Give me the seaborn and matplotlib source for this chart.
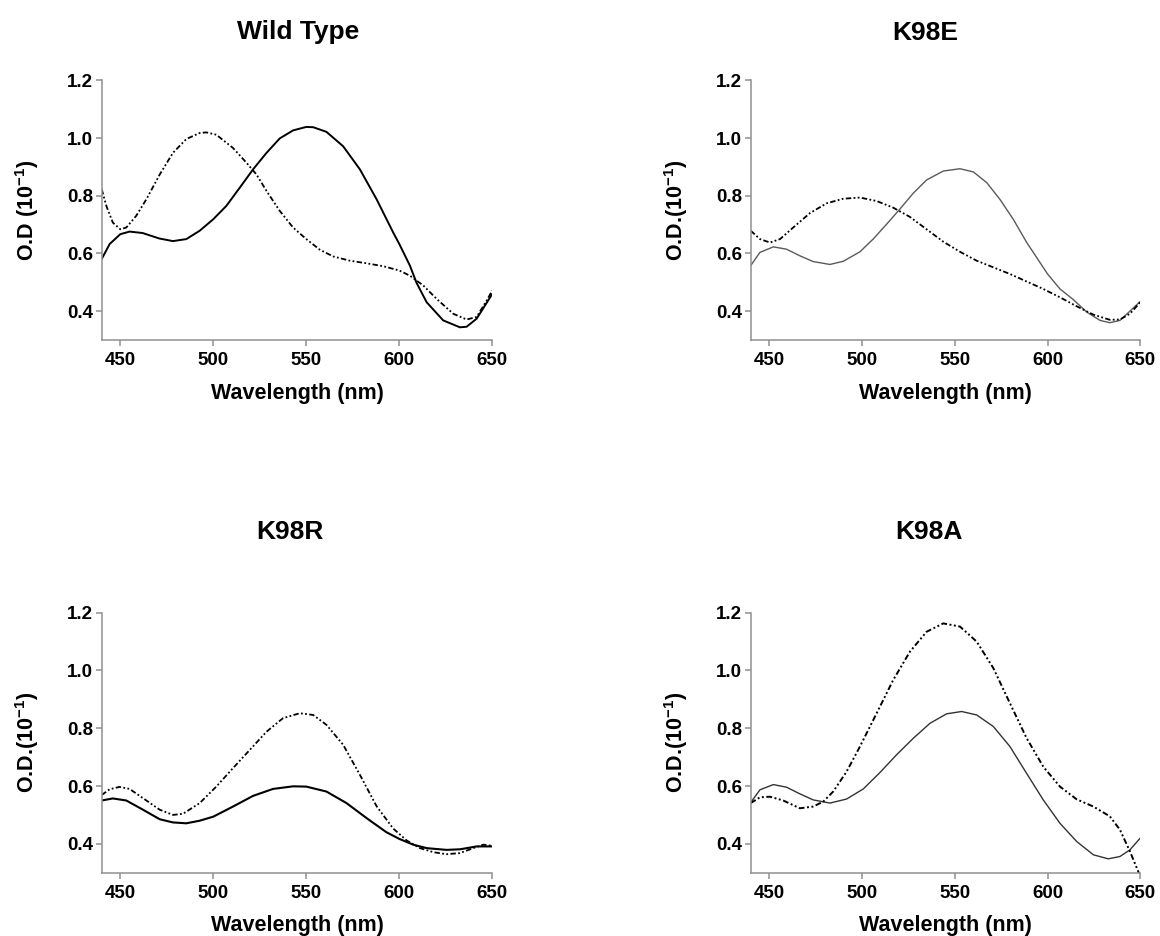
import numpy as np
import pandas as pd
import matplotlib
matplotlib.use("Agg")
import matplotlib.pyplot as plt
import seaborn as sns

# ---------------- data ----------------
titles = ["Wild Type", "K98E", "K98R", "K98A"]
ylabels = [r"O.D (10$^{-1}$)", r"O.D.(10$^{-1}$)", r"O.D.(10$^{-1}$)", r"O.D.(10$^{-1}$)"]
x_ticks = [450, 500, 550, 600, 650]
y_ticks = [0.4, 0.6, 0.8, 1.0, 1.2]
y_tick_labels = ["0.4", "0.6", "0.8", "1.0", "1.2"]

# Wild Type
wt_solid_wl = [440, 444.3, 450, 455, 462, 471, 478.3, 485.5, 492.7, 500, 507, 514.2, 521.4, 528.6,
               535.7, 542.9, 550, 553.7, 560.8, 569.8, 578.8, 587.8, 596.7, 600, 605.7, 609.3,
               614.7, 623.6, 632.6, 636.2, 641.6, 650]
wt_solid_od = [0.581, 0.633, 0.667, 0.676, 0.671, 0.652, 0.643, 0.650, 0.679, 0.719, 0.765, 0.828,
               0.892, 0.949, 0.999, 1.027, 1.039, 1.038, 1.022, 0.972, 0.892, 0.788, 0.673, 0.633,
               0.558, 0.498, 0.431, 0.368, 0.344, 0.346, 0.374, 0.460]
wt_dot_wl = [440, 442.5, 446, 450, 453.2, 458.6, 464, 471.2, 478.3, 485.5, 492.7, 496.3, 501.6,
             510.6, 517.8, 523.2, 528.6, 535.7, 542.9, 550, 557.3, 564.4, 573.4, 582.4, 591.3,
             600, 605.7, 612.9, 620, 629, 636.2, 641.6, 647, 650]
wt_dot_od = [0.823, 0.765, 0.707, 0.684, 0.690, 0.731, 0.788, 0.874, 0.949, 0.997, 1.018, 1.020,
             1.012, 0.966, 0.915, 0.874, 0.817, 0.748, 0.690, 0.650, 0.613, 0.590, 0.575, 0.566,
             0.556, 0.541, 0.523, 0.489, 0.443, 0.391, 0.371, 0.380, 0.437, 0.472]

# K98E
e_solid_wl = [440, 445, 452.2, 459.3, 466.5, 473.7, 482.7, 489.9, 498.9, 506, 513.3, 520.4, 527.6,
              534.8, 543.8, 552.8, 560, 567.2, 574.3, 581.5, 588.7, 595.9, 600, 606.7, 613.9,
              621.1, 628.3, 633.6, 639, 644.4, 650]
e_solid_od = [0.558, 0.604, 0.623, 0.615, 0.592, 0.572, 0.562, 0.573, 0.606, 0.650, 0.702, 0.754,
              0.809, 0.855, 0.886, 0.894, 0.883, 0.846, 0.788, 0.719, 0.639, 0.569, 0.529, 0.477,
              0.440, 0.397, 0.368, 0.360, 0.368, 0.400, 0.434]
e_dot_wl = [440, 445, 450.4, 455.8, 462.9, 471.9, 480.9, 489.9, 498.9, 507.9, 516.8, 525.8, 534.8,
            543.8, 552.8, 561.8, 570.8, 579.7, 588.7, 597.7, 606.7, 615.7, 624.7, 633.6, 639,
            644.4, 650]
e_dot_od = [0.679, 0.650, 0.638, 0.650, 0.690, 0.740, 0.774, 0.790, 0.794, 0.782, 0.759, 0.727,
            0.684, 0.641, 0.606, 0.575, 0.552, 0.529, 0.503, 0.477, 0.448, 0.417, 0.388, 0.370,
            0.371, 0.391, 0.431]

# K98R
r_solid_wl = [440, 446, 453.2, 462.2, 471.2, 478.3, 485.5, 492.7, 500, 510.6, 521.4, 532.1, 542.9,
              550, 560.8, 571.6, 582.4, 593.1, 600, 607.5, 614.7, 625.4, 632.6, 641.6, 650]
r_solid_od = [0.550, 0.557, 0.550, 0.518, 0.485, 0.474, 0.471, 0.480, 0.494, 0.529, 0.566, 0.590,
              0.599, 0.598, 0.581, 0.541, 0.489, 0.440, 0.417, 0.397, 0.385, 0.379, 0.381, 0.391,
              0.391]
r_dot_wl = [440, 444.3, 449.6, 455, 462.2, 471.2, 478.3, 483.7, 492.7, 501.6, 510.6, 519.6, 528.6,
            537.5, 546.5, 553.7, 560.8, 569.8, 578.8, 587.8, 596.7, 603.9, 611.1, 618.3, 625.4,
            632.6, 639.8, 645.2, 650]
r_dot_od = [0.569, 0.589, 0.597, 0.590, 0.558, 0.518, 0.500, 0.504, 0.541, 0.598, 0.662, 0.725,
            0.788, 0.835, 0.852, 0.846, 0.812, 0.743, 0.639, 0.530, 0.453, 0.412, 0.385, 0.371,
            0.364, 0.368, 0.385, 0.397, 0.393]

# K98A
a_solid_wl = [440, 445, 452.2, 459.3, 466.5, 473.7, 482.7, 491.7, 500.7, 509.7, 518.6, 527.6,
              536.6, 545.6, 553.7, 561.8, 570.8, 579.7, 588.7, 597.7, 606.7, 615.7, 624.7, 632.7,
              639, 644.4, 650]
a_solid_od = [0.543, 0.587, 0.605, 0.596, 0.573, 0.552, 0.541, 0.555, 0.590, 0.647, 0.708, 0.765,
              0.817, 0.850, 0.858, 0.846, 0.806, 0.737, 0.644, 0.552, 0.471, 0.408, 0.362, 0.348,
              0.356, 0.379, 0.420]
a_dot_wl = [440, 445, 450.4, 457.5, 466.5, 473.7, 479.1, 484.5, 491.7, 498.9, 507.9, 516.8, 525.8,
            534.8, 543.8, 552.8, 561.8, 570.8, 579.7, 588.7, 597.7, 606.7, 615.7, 624.7, 633.6,
            639, 644.4, 648.9, 650]
a_dot_od = [0.541, 0.561, 0.563, 0.550, 0.523, 0.529, 0.546, 0.581, 0.650, 0.737, 0.852, 0.967,
            1.065, 1.134, 1.163, 1.152, 1.100, 1.008, 0.887, 0.766, 0.667, 0.598, 0.554, 0.529,
            0.495, 0.449, 0.374, 0.304, 0.285]

panels = [
    (wt_solid_wl, wt_solid_od, wt_dot_wl, wt_dot_od),
    (e_solid_wl, e_solid_od, e_dot_wl, e_dot_od),
    (r_solid_wl, r_solid_od, r_dot_wl, r_dot_od),
    (a_solid_wl, a_solid_od, a_dot_wl, a_dot_od),
]

# ---------------- styling ----------------
sns.set_theme(style="ticks")
plt.rcParams['font.family'] = ['Liberation Sans', 'DejaVu Sans']
plt.rcParams['font.weight'] = 'bold'
plt.rcParams['mathtext.fontset'] = 'custom'
plt.rcParams['mathtext.rm'] = 'Liberation Sans:bold'
plt.rcParams['mathtext.it'] = 'Liberation Sans:bold:italic'
plt.rcParams['mathtext.bf'] = 'Liberation Sans:bold'
plt.rcParams['mathtext.default'] = 'bf'

W, H = 1160, 936
fig = plt.figure(figsize=(W / 100, H / 100), dpi=100)

spine_gray = "#8f8f8f"
solid_styles = [("black", 1.4), ("#5a5a5a", 1.0), ("black", 1.5), ("#333333", 1.0)]
dot_lw = [1.3, 1.3, 1.3, 1.4]
dash_pat = (0, (3.0, 1.3, 1.0, 1.3, 1.0, 1.3))

# axes boxes in pixels: (left, top, right, bottom)
boxes = [(101.7, 80.5, 492.3, 340.0), (750.7, 80.5, 1140.3, 340.0),
         (101.7, 612.7, 492.3, 872.7), (750.7, 612.7, 1140.3, 872.7)]
title_pos = [(298, 39.5), (925, 40.0), (290, 539.3), (929, 539.3)]

for i, (sw, so, dw, do) in enumerate(panels):
    l, t, r, b = boxes[i]
    ax = fig.add_axes([l / W, (H - b) / H, (r - l) / W, (b - t) / H])
    df_s = pd.DataFrame({"wl": sw, "od": so})
    df_d = pd.DataFrame({"wl": dw, "od": do})
    col, lw = solid_styles[i]
    sns.lineplot(data=df_s, x="wl", y="od", ax=ax, color=col, linewidth=lw,
                 estimator=None, sort=True)
    sns.lineplot(data=df_d, x="wl", y="od", ax=ax, color="black", linewidth=dot_lw[i],
                 linestyle=dash_pat, estimator=None, sort=True)

    ax.set_xlim(440, 650)
    ax.set_ylim(0.3, 1.2)
    ax.set_xticks(x_ticks)
    ax.set_xticklabels([str(v) for v in x_ticks])
    ax.set_yticks(y_ticks)
    ax.set_yticklabels(y_tick_labels)
    for s in ["top", "right"]:
        ax.spines[s].set_visible(False)
    for s in ["left", "bottom"]:
        ax.spines[s].set_color(spine_gray)
        ax.spines[s].set_linewidth(1.1)
    ax.tick_params(axis="both", colors=spine_gray, length=4.3, width=1.1,
                   labelcolor="black", labelsize=13.5)
    ax.tick_params(axis="x", pad=4.3)
    ax.tick_params(axis="y", pad=1.7)
    for lab in ax.get_xticklabels() + ax.get_yticklabels():
        lab.set_fontweight("bold")
    ax.set_facecolor("white")

    ax.set_xlabel("Wavelength (nm)", fontsize=15.5, fontweight="bold", color="black")
    ax.xaxis.label.set_va("baseline")
    ax.xaxis.set_label_coords(0.5, -58.5 / (b - t))
    ax.set_ylabel(ylabels[i], fontsize=15.5, fontweight="bold", color="black")
    ax.yaxis.label.set_va("center")
    ax.yaxis.set_label_coords(-74.3 / (r - l), 0.5)

    tx, ty = title_pos[i]
    fig.text(tx / W, (H - ty) / H, titles[i], ha="center", va="baseline",
             fontsize=19, fontweight="bold", color="black")

fig.patch.set_facecolor("white")
fig.savefig("out.png", dpi=100, facecolor="white")
